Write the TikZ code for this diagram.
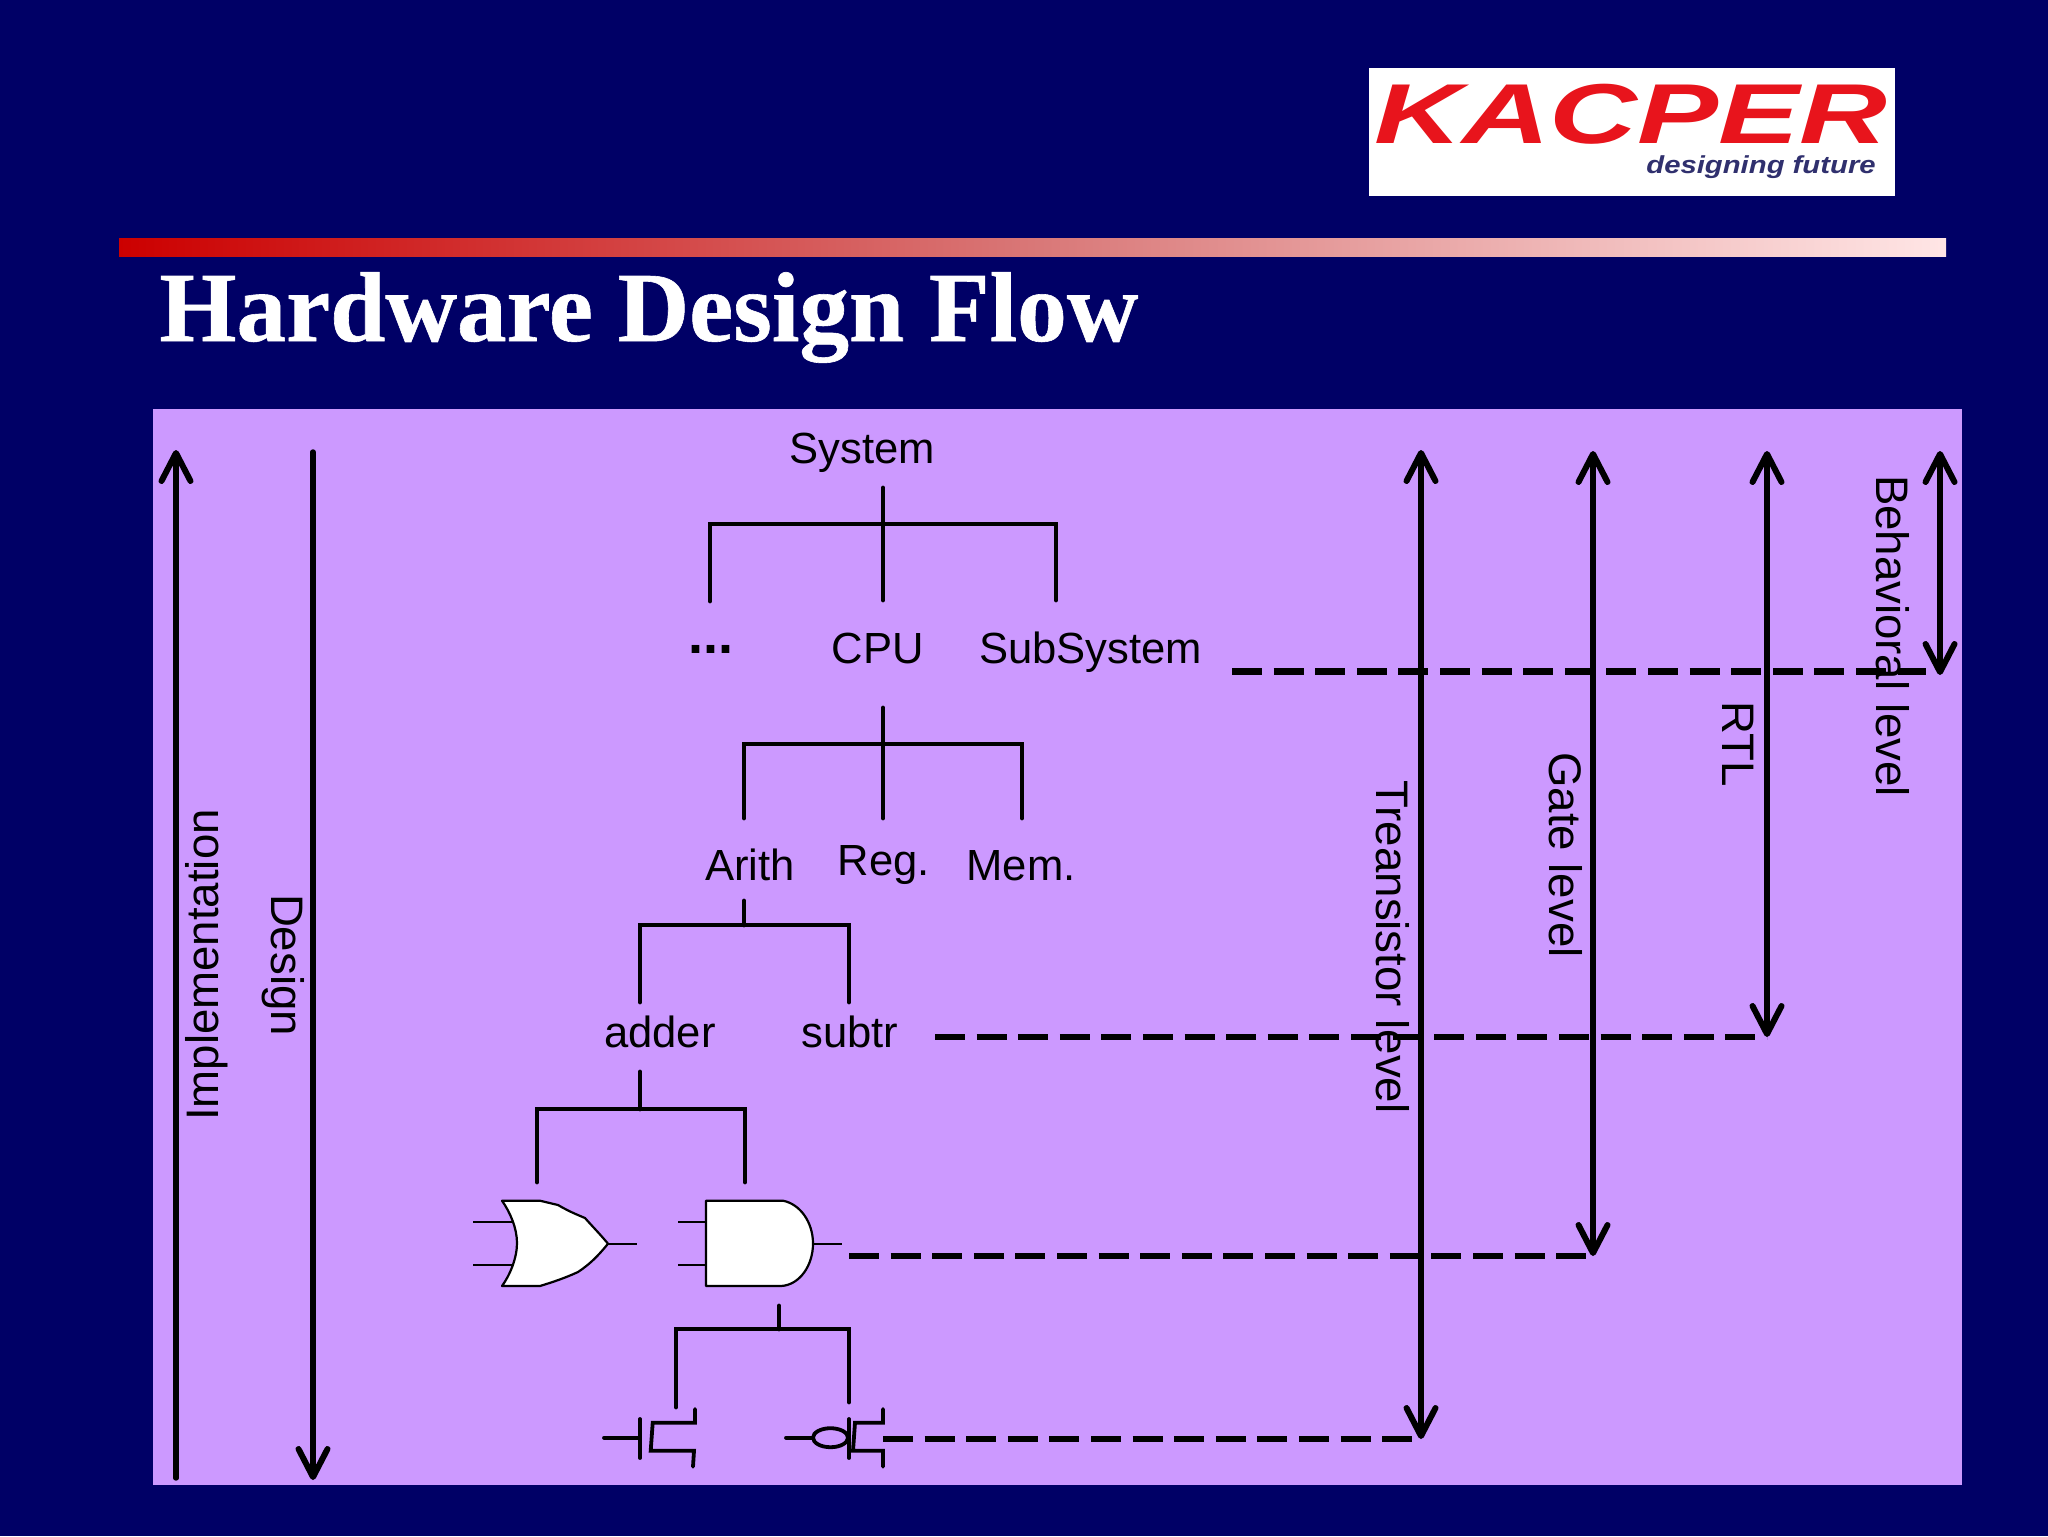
\documentclass[tikz,border=0pt]{standalone}
\usepackage{fontspec}
\setmainfont{Liberation Sans}
\newfontfamily\titlefont[BoldFeatures={FakeBold=0.6}]{Liberation Serif}
\usetikzlibrary{arrows.meta}
\definecolor{slidebg}{HTML}{000066}
\definecolor{panel}{HTML}{CC99FF}
\definecolor{logored}{HTML}{E8141C}
\definecolor{logoblue}{HTML}{30306E}
\tikzset{
  barb/.tip={Straight Barb[length=14pt,width=14.5pt,line width=3pt,round]},
  tree/.style={line width=2.4pt,black,line cap=round,line join=miter},
  levelarrow/.style={line width=2.7pt,black,line cap=round},
  dashline/.style={line width=3.3pt,black,dash pattern=on 15pt off 5.8pt},
  label/.style={font=\fontsize{21.8}{26}\selectfont,inner sep=0pt,text=black},
  sidelabel/.style={font=\fontsize{22.8}{26}\selectfont,inner sep=0pt,text=black},
  gate/.style={draw=black,fill=white,line width=1.1pt,line join=round},
  wire/.style={line width=0.8pt,black},
  mos/.style={line width=1.9pt,black,line cap=round,line join=miter},
}
\begin{document}
\begin{tikzpicture}[x=0.5pt,y=-0.5pt]
\useasboundingbox (0,0) rectangle (2048,1536);
\fill[slidebg] (0,0) rectangle (2048,1536);
% logo
\fill[white] (1369,68) rectangle (1895,196);
\node[inner sep=0pt,anchor=base,text=logored,xscale=1.43] (logo) at (1631,143)
  {\fontsize{42.5}{46}\selectfont\bfseries\itshape KACPER};
\node[inner sep=0pt,anchor=base,text=logoblue,xscale=1.19] (tagline) at (1761,173)
  {\fontsize{12.3}{14}\selectfont\bfseries\itshape designing future};
% rule and title
\shade[left color=red!80!black,right color=red!10!white,middle color=red!45!white!85!black] (119,238) rectangle (1946,256);
\node[inner sep=0pt,anchor=base west,text=white] (title) at (159,341)
  {\titlefont\fontsize{49.6}{54}\selectfont\bfseries Hardware Design Flow};
% panel
\fill[panel] (153,409) rectangle (1962,1485);

% tree labels
\node[label,anchor=base] (system) at (862,463) {System};
\node[label,anchor=base] (dots) at (711,653) {\fontsize{27}{30}\selectfont\bfseries ...};
\node[label,anchor=base] (cpu) at (878,663) {CPU};
\node[label,anchor=base] (subsystem) at (1090.5,663) {SubSystem};
\node[label,anchor=base] (arith) at (750,880) {Arith};
\node[label,anchor=base] (reg) at (884,875) {Reg.};
\node[label,anchor=base] (mem) at (1021,880) {Mem.};
\node[label,anchor=base] (adder) at (660,1047) {adder};
\node[label,anchor=base] (subtr) at (850,1047) {subtr};

% tree junctions
\coordinate (s0) at (883,488); \coordinate (s1) at (883,524);
\coordinate (s2) at (710,601); \coordinate (s3) at (883,600); \coordinate (s4) at (1056,600);
\coordinate (c0) at (883,708); \coordinate (c1) at (883,744);
\coordinate (c2) at (744,818); \coordinate (c3) at (883,818); \coordinate (c4) at (1022,818);
\coordinate (a0) at (744,901); \coordinate (a1) at (744,925);
\coordinate (a2) at (640,1002); \coordinate (a3) at (849,1002);
\coordinate (b0) at (640,1072); \coordinate (b1) at (640,1109);
\coordinate (b2) at (537,1182); \coordinate (b3) at (745,1182);
\coordinate (t0) at (779,1306); \coordinate (t1) at (779,1329);
\coordinate (t2) at (676,1407); \coordinate (t3) at (849,1402);

\draw[tree] (s0) -- (s3);
\draw[tree] (s2) |- (s1) -| (s4);
\draw[tree] (c0) -- (c3);
\draw[tree] (c2) |- (c1) -| (c4);
\draw[tree] (a0) -- (a1);
\draw[tree] (a2) |- (a1) -| (a3);
\draw[tree] (b0) -- (b1);
\draw[tree] (b2) |- (b1) -| (b3);
\draw[tree] (t0) -- (t1);
\draw[tree] (t2) |- (t1) -| (t3);

% OR gate
\draw[wire] (473,1222) -- (512,1222) (473,1265) -- (512,1265) (608,1243.7) -- (637,1243.7);
\draw[gate] (502,1200.7) -- (540,1200.7) -- (558,1205) .. controls (570,1212) and (578,1215) .. (585,1218)
  .. controls (592,1226) and (600,1234) .. (608,1243.7)
  .. controls (598,1256) and (590,1264) .. (578,1272) .. controls (565,1278) and (553,1282) .. (540,1286) -- (502,1286)
  .. controls (510,1275) and (517,1258) .. (517,1243) .. controls (517,1228) and (510,1212) .. (502,1200.7) -- cycle;
% AND gate
\draw[wire] (678,1222) -- (706,1222) (678,1265) -- (706,1265) (813,1243.7) -- (842,1243.7);
\draw[gate] (706,1200.7) -- (783,1200.7) .. controls (800,1204) and (813,1222) .. (813,1243.7)
  .. controls (813,1265) and (800,1285) .. (781,1286) -- (706,1286) -- cycle;

% NMOS
\draw[mos] (604,1437.7) -- (640,1437.7) (640,1419) -- (640,1458);
\draw[mos] (695,1409) -- (695,1422.7) -- (652.7,1422.7) -- (650.7,1450.7) -- (694,1450.7) -- (693,1466.7);
% PMOS
\coordinate (pmosout) at (883,1439);
\draw[mos] (786,1437.7) -- (813,1437.7) (849,1419) -- (849,1458);
\draw[mos] (830.5,1437.7) ellipse [x radius=17.5,y radius=9.5];
\draw[mos] (883,1409) -- (883,1422.7) -- (855,1422.7) -- (853,1450.7) -- (883,1450.7) -- (883,1466.7);

% level anchors
\coordinate (impB) at (176,1478); \coordinate (impT) at (176,450);
\coordinate (desT) at (313,452); \coordinate (desB) at (313,1480);
\coordinate (traT) at (1421,450); \coordinate (traB) at (1421,1439);
\coordinate (gatT) at (1593,451); \coordinate (gatB) at (1593,1256);
\coordinate (rtlT) at (1767,451); \coordinate (rtlB) at (1767,1037);
\coordinate (behT) at (1940,451); \coordinate (behB) at (1940,675);
\draw[levelarrow,-barb] (impB) -- (impT);
\draw[levelarrow,-barb] (desT) -- (desB);
\draw[levelarrow,barb-barb] (traT) -- (traB);
\draw[levelarrow,barb-barb] (gatT) -- (gatB);
\draw[levelarrow,barb-barb] (rtlT) -- (rtlB);
\draw[levelarrow,barb-barb] (behT) -- (behB);

% dashed levels
\coordinate (d1s) at (1232,671.5); \coordinate (d1e) at (1926,671.5);
\coordinate (d2s) at (935,1037); \coordinate (d3s) at (849,1256);
\draw[dashline] (d1s) -- (d1e);
\draw[dashline] (d2s) -- (rtlB);
\draw[dashline] (d3s) -- (gatB);
\draw[dashline] (pmosout) -- (traB);

% rotated labels
\node[sidelabel,rotate=90] (impl) at (207,965) {Implementation};
\node[sidelabel,rotate=-90] (design) at (283,965) {Design};
\node[sidelabel,rotate=-90] (tlev) at (1393,947) {Treansistor level};
\node[sidelabel,rotate=-90] (glev) at (1566,855) {Gate level};
\node[sidelabel,rotate=-90] (rtl) at (1738,744) {RTL};
\node[sidelabel,rotate=-90] (blev) at (1893,636) {Behavioral level};
\end{tikzpicture}
\end{document}
